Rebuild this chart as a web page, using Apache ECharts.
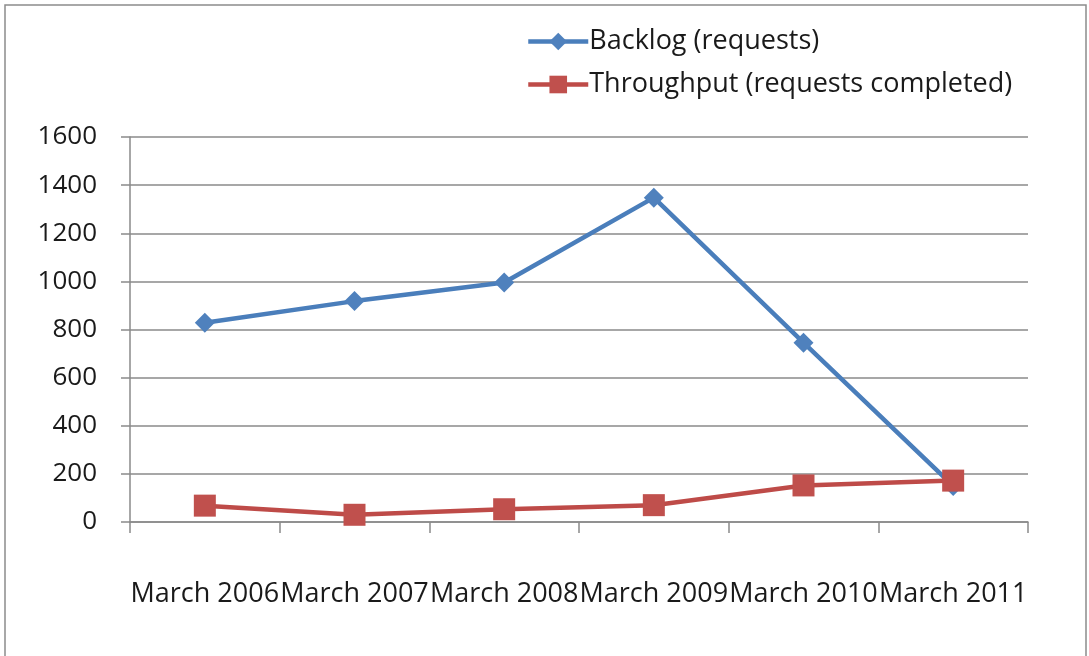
<!DOCTYPE html>
<html>
<head>
<meta charset="utf-8">
<script src="https://cdn.jsdelivr.net/npm/echarts@6/dist/echarts.min.js"></script>
<style>
  html, body { margin: 0; padding: 0; background: #ffffff; }
  #chart { width: 1089px; height: 656px; }
</style>
</head>
<body>
<div id="chart"></div>
<script>
// Yearly snapshot of the request queue
const categories = ['March 2006', 'March 2007', 'March 2008', 'March 2009', 'March 2010', 'March 2011'];
const backlog = [828, 918, 995, 1348, 745, 150];
const throughput = [68, 30, 53, 70, 152, 172];
const yTicks = { min: 0, max: 1600, interval: 200 };

const FONT = '"Open Sans", "Liberation Sans", sans-serif';
const TEXT = '#1a1a1a';
const GRID = '#8a8a8a';

const chart = echarts.init(document.getElementById('chart'), null, { renderer: 'canvas' });

chart.setOption({
  animation: false,
  backgroundColor: '#ffffff',
  textStyle: { fontFamily: FONT, color: TEXT },
  graphic: [{
    type: 'rect',
    shape: { x: 5, y: 5, width: 1081, height: 680 },
    style: { fill: 'none', stroke: '#8c8c8c', lineWidth: 1.5 },
    silent: true
  }],
  legend: {
    orient: 'vertical',
    left: 521,
    top: 23,
    itemGap: 16,
    itemWidth: 60,
    itemHeight: 22,
    lineStyle: { width: 4.5 },
    textStyle: { fontFamily: FONT, fontSize: 27, color: TEXT, padding: [0, 0, 0, -4] },
    data: ['Backlog (requests)', 'Throughput (requests completed)']
  },
  grid: { left: 130, right: 61, top: 137, bottom: 134, containLabel: false },
  xAxis: {
    type: 'category',
    data: categories,
    boundaryGap: true,
    axisLine: { show: true, lineStyle: { color: GRID, width: 1.5 } },
    axisTick: { show: true, length: 11, alignWithLabel: false, lineStyle: { color: GRID, width: 1.5 } },
    axisLabel: { interval: 0, margin: 59, fontFamily: FONT, fontSize: 27, color: TEXT }
  },
  yAxis: {
    type: 'value',
    min: yTicks.min,
    max: yTicks.max,
    interval: yTicks.interval,
    axisLine: { show: true, lineStyle: { color: GRID, width: 1.5 } },
    axisTick: { show: true, inside: false, length: 9, lineStyle: { color: GRID, width: 1.5 } },
    axisLabel: { margin: 33, fontFamily: FONT, fontSize: 26, color: TEXT, formatter: v => String(v) },
    splitLine: { show: true, lineStyle: { color: GRID, width: 1.5 } }
  },
  series: [
    {
      name: 'Backlog (requests)',
      type: 'line',
      data: backlog,
      symbol: 'diamond',
      symbolSize: 20,
      lineStyle: { color: '#4a7ebb', width: 4.5 },
      itemStyle: { color: '#4f81bd', borderWidth: 0 },
      z: 2
    },
    {
      name: 'Throughput (requests completed)',
      type: 'line',
      data: throughput,
      symbol: 'rect',
      symbolSize: 22,
      lineStyle: { color: '#be4b48', width: 4.5 },
      itemStyle: { color: '#c0504d', borderWidth: 0 },
      z: 3
    }
  ]
});
</script>
</body>
</html>
